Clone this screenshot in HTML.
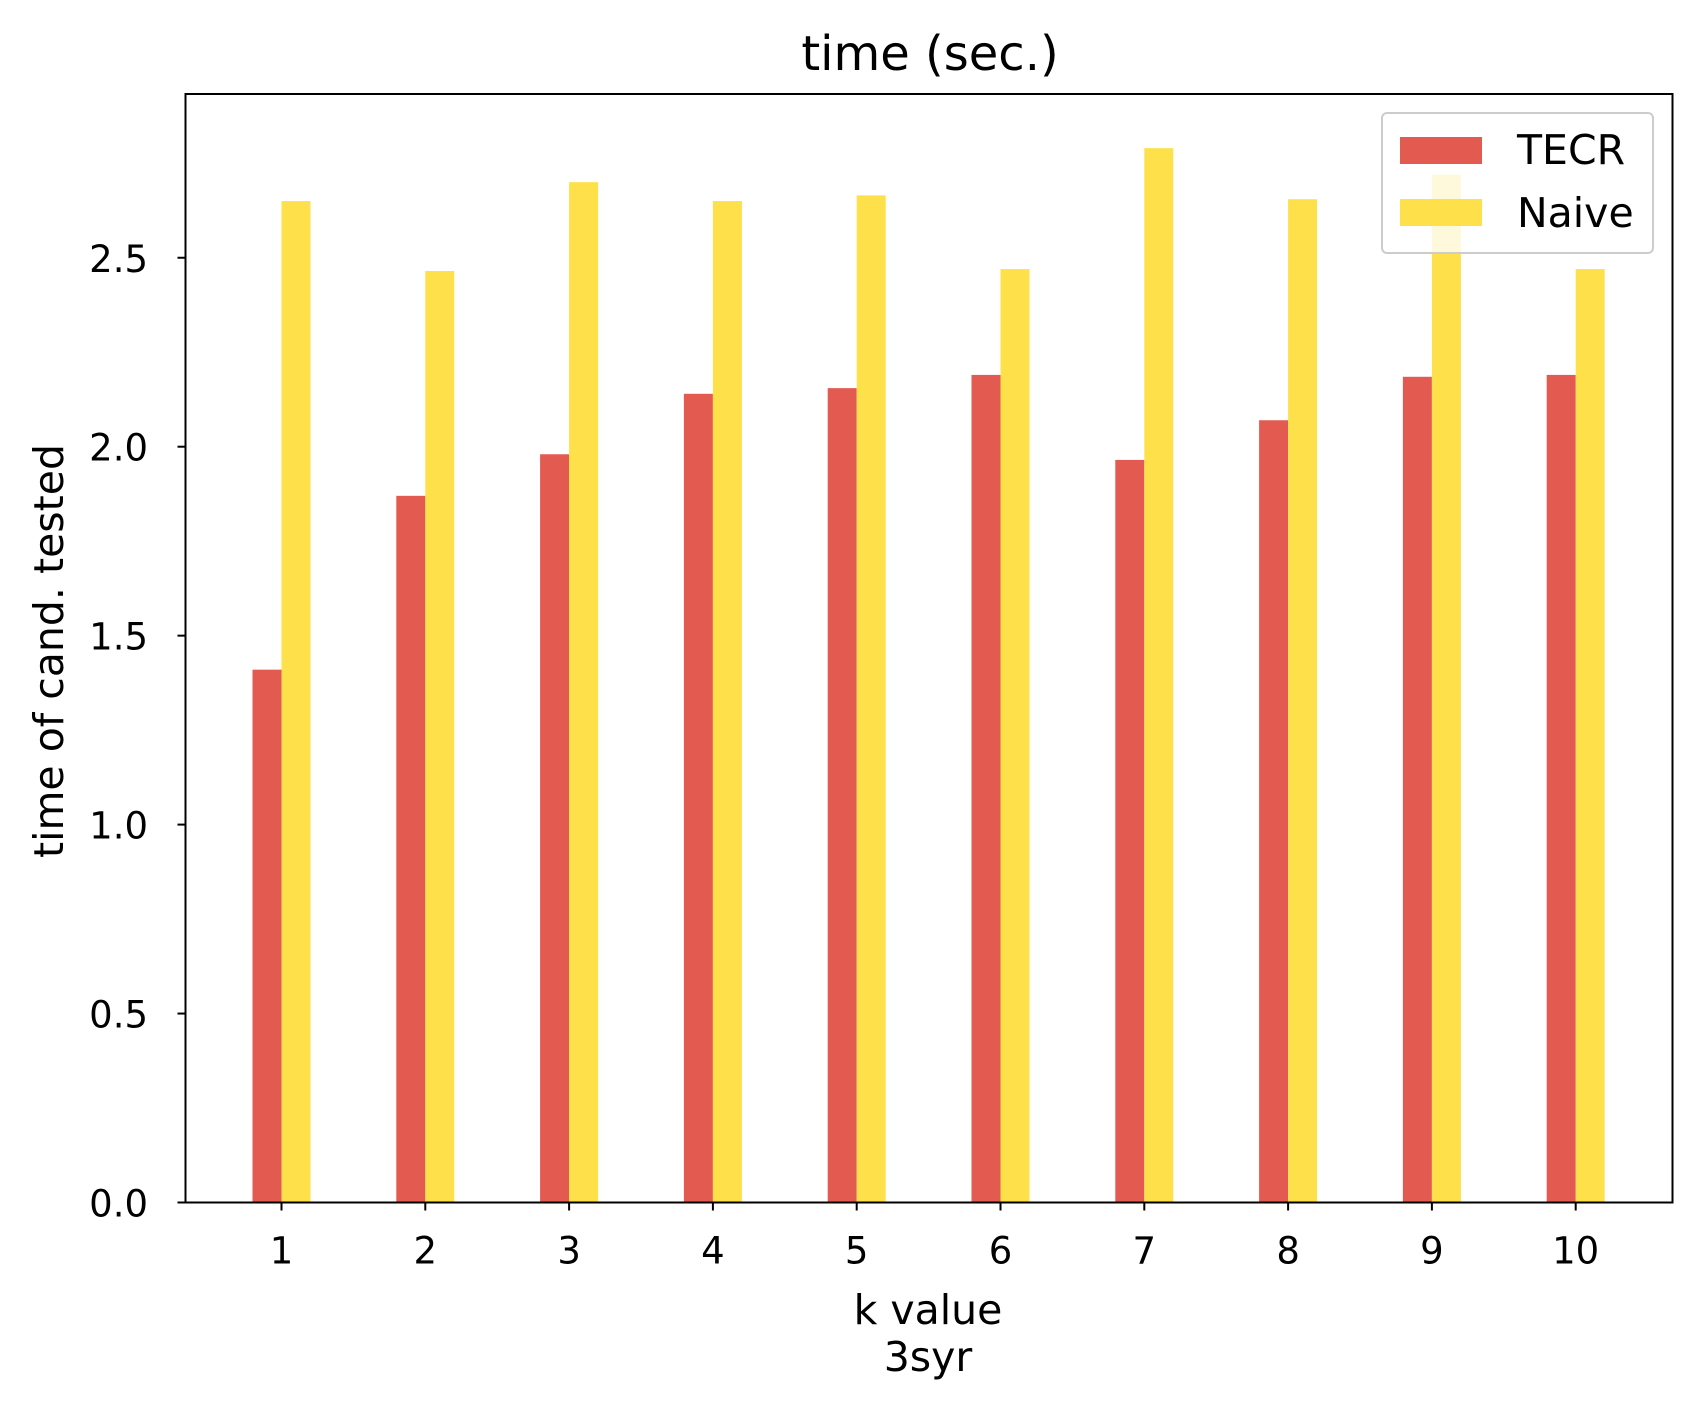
<!DOCTYPE html>
<html><head><meta charset="utf-8"><style>
html,body{margin:0;padding:0;background:#fff;}
svg{display:block;font-family:"DejaVu Sans","Liberation Sans",sans-serif;}
</style></head><body>
<svg id="chart" width="1702" height="1410" viewBox="0 0 1702 1410">
<rect width="1702" height="1410" fill="#fff"/>
<text x="930" y="70" font-size="48" text-anchor="middle">time (sec.)</text>
<g id="bars"></g>
<g id="axes"></g>
<rect x="185.5" y="94" width="1487" height="1108.5" fill="none" stroke="#000" stroke-width="2"/>
<text x="928" y="1324" font-size="41" text-anchor="middle">k value</text>
<text x="928" y="1371" font-size="41" text-anchor="middle">3syr</text>
<text transform="translate(63,651) rotate(-90)" font-size="41" text-anchor="middle">time of cand. tested</text>
<g>
<rect x="1382" y="113" width="271" height="140" rx="5" fill="#fff" fill-opacity="0.8" stroke="#ccc" stroke-width="2"/>
<rect x="1400" y="137" width="82" height="27" fill="#e35a50"/>
<text x="1517" y="164" font-size="41">TECR</text>
<rect x="1400" y="199" width="82" height="27" fill="#fde04a"/>
<text x="1517" y="227" font-size="41">Naive</text>
</g>
</svg>
<script>
const categories = ["1","2","3","4","5","6","7","8","9","10"];
const tecrValues = [1.41,1.87,1.98,2.14,2.155,2.19,1.965,2.07,2.185,2.19];
const naiveValues = [2.65,2.465,2.70,2.65,2.665,2.47,2.79,2.655,2.72,2.47];
const yTicks = [0.0,0.5,1.0,1.5,2.0,2.5];
const yTickLabels = ["0.0","0.5","1.0","1.5","2.0","2.5"];

const NS="http://www.w3.org/2000/svg";
const y0=1202.5, yScale=377.9;
function yPos(v){return y0 - v*yScale;}
function xPos(i){return 281.5 + i*143.8;}
const bw=29;
const bars=document.getElementById('bars');
const axes=document.getElementById('axes');
function mk(tag,attrs,parent){const e=document.createElementNS(NS,tag);for(const k in attrs)e.setAttribute(k,attrs[k]);parent.appendChild(e);return e;}
categories.forEach((c,i)=>{
  const x=xPos(i);
  const r=mk('rect',{x:x-bw,y:yPos(tecrValues[i]),width:bw,height:y0-yPos(tecrValues[i]),fill:'#e35a50'},bars);
  
  
  const n=mk('rect',{x:x,y:yPos(naiveValues[i]),width:bw,height:y0-yPos(naiveValues[i]),fill:'#fde04a'},bars);
  
  
  const t=mk('line',{x1:x,x2:x,y1:y0,y2:y0+8,stroke:'#000','stroke-width':2},axes);
  
  
  const l=mk('text',{x:x,y:y0+61,'font-size':37,'text-anchor':'middle'},axes);
  l.textContent=c;
  
  
});
yTicks.forEach((v,i)=>{
  const y=yPos(v);
  const t=mk('line',{x1:177.5,x2:185.5,y1:y,y2:y,stroke:'#000','stroke-width':2},axes);
  
  
  const l=mk('text',{x:148,y:y+14,'font-size':37,'text-anchor':'end'},axes);
  l.textContent=yTickLabels[i];
  
  
});
</script>
</body></html>
